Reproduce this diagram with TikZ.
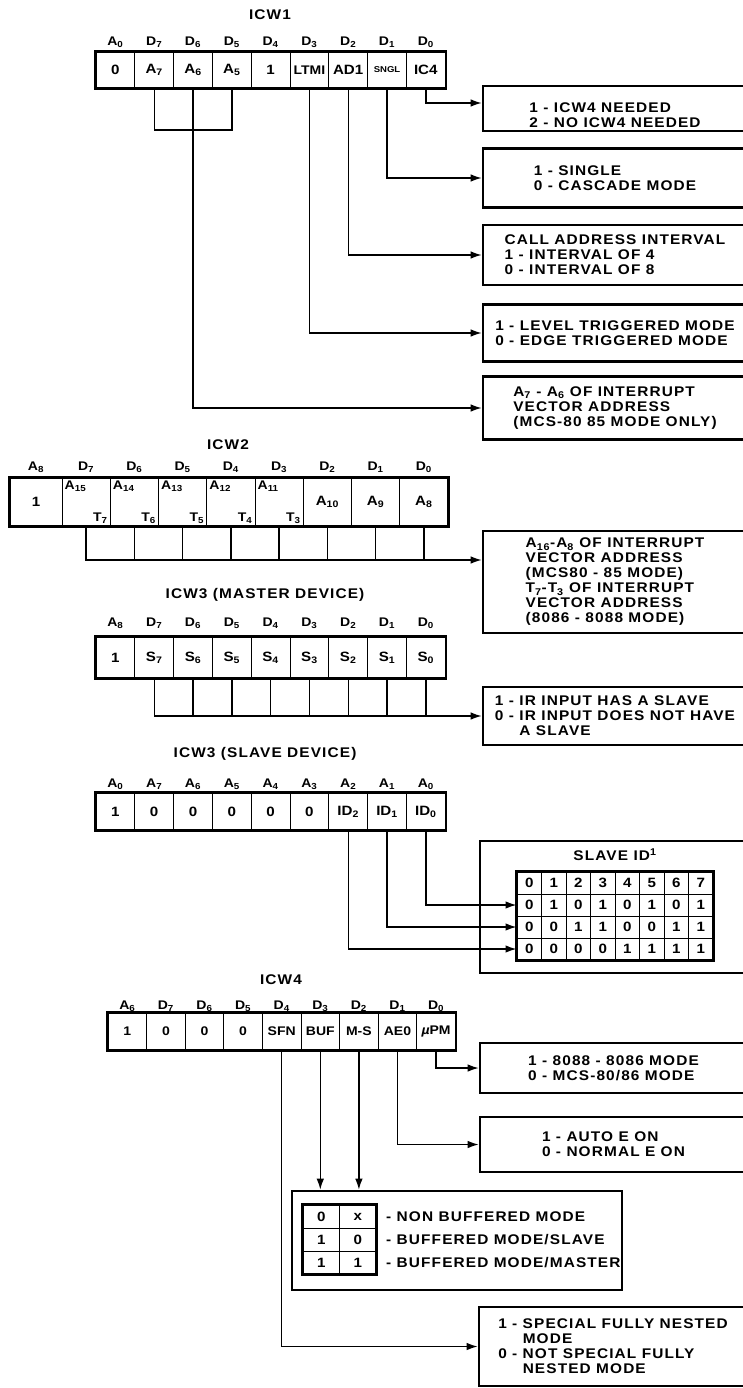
\documentclass[tikz,border=0pt]{standalone}
\usepackage{fontspec}
\setmainfont{Liberation Sans}
\newfontfamily\fonttesto{Liberation Sans}[FakeStretch=1.1,LetterSpace=8]
\newfontfamily\fontcella{Liberation Sans}[FakeStretch=1.12]
\usetikzlibrary{arrows.meta,positioning}
\newcommand{\lo}[1]{\textsubscript{#1}}

\begin{document}
\begin{tikzpicture}[
  x=1pt, y=-1pt,
  filo/.style={line width=1.4pt},
  freccia/.style={line width=1.4pt, -{Latex[length=11pt,width=7.5pt]}},
  bordo/.style={line width=2.4pt},
  cella/.style={draw, line width=1pt, inner sep=0pt,
    font=\fontcella\bfseries\fontsize{13.5}{13.5}\selectfont},
  bit/.style={inner sep=0pt,
    font=\fontcella\bfseries\fontsize{12.5}{12.5}\selectfont},
  titolo/.style={inner sep=0pt,
    font=\fonttesto\bfseries\fontsize{14}{14}\selectfont},
  riquadro/.style={draw, line width=2.6pt, minimum width=264pt,
    inner sep=0pt, align=left,
    font=\fonttesto\bfseries\fontsize{14}{15}\selectfont},
  voce/.style={inner sep=0pt, anchor=west,
    font=\fonttesto\bfseries\fontsize{14}{14}\selectfont},
]
\useasboundingbox (0,0) rectangle (742,1388);

%% ICW1
\node[titolo] (t1) at (270,15) {ICW1};
\foreach \i/\b/\c in {0/A\lo{0}/0, 1/D\lo{7}/A\lo{7}, 2/D\lo{6}/A\lo{6},
    3/D\lo{5}/A\lo{5}, 4/D\lo{4}/1, 5/D\lo{3}/{\fontsize{12.5}{12.5}\selectfont LTMI},
    6/D\lo{2}/AD1, 7/D\lo{1}/{\fontsize{8.5}{8.5}\selectfont SNGL}, 8/D\lo{0}/IC4} {
  \node[cella, minimum width=38.8pt, minimum height=36pt]
    (w1c\i) at (115.4+38.8*\i,70) {\c};
  \node[bit] (w1b\i) at (115.4+38.8*\i,42) {\b};
}
\draw[bordo] (w1c0.north west) rectangle (w1c8.south east);

% riquadri ICW1
\node[riquadro, minimum height=45pt] (b1) at (615,108.5) {};
\node[riquadro, draw=none, minimum height=0pt] (b1t) at (615,115)
  {1 - ICW4 NEEDED\\2 - NO ICW4 NEEDED};
\node[riquadro, minimum height=59pt] (b2) at (615,178)
  {1 - SINGLE\\0 - CASCADE MODE};
\node[riquadro, minimum height=60pt] (b3) at (615,255)
  {CALL ADDRESS INTERVAL\\1 - INTERVAL OF 4\\0 - INTERVAL OF 8};
\node[riquadro, minimum height=57pt] (b4) at (615,333)
  {1 - LEVEL TRIGGERED MODE\\0 - EDGE TRIGGERED MODE};
\node[riquadro, minimum height=63pt] (b5) at (615,408)
  {A\lo{7} - A\lo{6} OF INTERRUPT\\VECTOR ADDRESS\\(MCS-80 85 MODE ONLY)};

% collegamenti ICW1
\coordinate (ponte) at (w1c2.south |- 0,130);
\coordinate (ic4) at (0,103);
\draw[filo] (w1c1.south) |- (ponte) -| (w1c3.south);
\draw[filo] (w1c2.south) -- (ponte);
\draw[freccia] (ponte) |- (b5.west);
\draw[freccia] (w1c5.south) |- (b4.west);
\draw[freccia] (w1c6.south) |- (b3.west);
\draw[freccia] (w1c7.south) |- (b2.west);
\draw[freccia] (w1c8.south) |- (b1.west |- ic4);

%% ICW2
\node[titolo] (t2) at (228,445) {ICW2};
\node[cella, minimum width=52pt, minimum height=48pt] (w2c0) at (36,502) {1};
\node[bit] (w2b0) at (36,467) {A\lo{8}};
\foreach \i/\b/\c in {1/7/{}, 2/6/{}, 3/5/{}, 4/4/{}, 5/3/{},
    6/2/A\lo{10}, 7/1/A\lo{9}, 8/0/A\lo{8}} {
  \node[cella, minimum width=48.25pt, minimum height=48pt]
    (w2c\i) at (37.875+48.25*\i,502) {\c};
  \node[bit] (w2b\i) at (37.875+48.25*\i,467) {D\lo{\b}};
}
\foreach \i/\a/\t in {1/15/7, 2/14/6, 3/13/5, 4/12/4, 5/11/3} {
  \node[bit, inner sep=3pt, anchor=north west] (w2a\i) at (w2c\i.north west) {A\lo{\a}};
  \node[bit, inner sep=3pt, anchor=south east] (w2t\i) at (w2c\i.south east) {T\lo{\t}};
}
\draw[bordo] (w2c0.north west) rectangle (w2c8.south east);

\node[riquadro, minimum height=102pt] (b6) at (615,582)
  {A\lo{16}-A\lo{8} OF INTERRUPT\\VECTOR ADDRESS\\(MCS80 - 85 MODE)\\
   T\lo{7}-T\lo{3} OF INTERRUPT\\VECTOR ADDRESS\\(8086 - 8088 MODE)};

\coordinate (bus2) at (0,560);
\draw[freccia] (w2c1.south) |- (b6.west |- bus2);
\foreach \i in {2,...,8}
  \draw[filo] (w2c\i.south) -- (w2c\i.south |- bus2);

%% ICW3 master
\node[titolo] (t3) at (265,595) {ICW3 (MASTER DEVICE)};
\foreach \i/\b/\c in {0/A\lo{8}/1, 1/D\lo{7}/S\lo{7}, 2/D\lo{6}/S\lo{6},
    3/D\lo{5}/S\lo{5}, 4/D\lo{4}/S\lo{4}, 5/D\lo{3}/S\lo{3},
    6/D\lo{2}/S\lo{2}, 7/D\lo{1}/S\lo{1}, 8/D\lo{0}/S\lo{0}} {
  \node[cella, minimum width=38.8pt, minimum height=41pt]
    (m3c\i) at (115.4+38.8*\i,657.5) {\c};
  \node[bit] (m3b\i) at (115.4+38.8*\i,623) {\b};
}
\draw[bordo] (m3c0.north west) rectangle (m3c8.south east);

\node[riquadro, minimum height=58pt] (b7) at (615,716)
  {1 - IR INPUT HAS A SLAVE\\0 - IR INPUT DOES NOT HAVE\\\phantom{1 - }A SLAVE};
\draw[freccia] (m3c1.south) |- (b7.west);
\foreach \i in {2,...,8}
  \draw[filo] (m3c\i.south) -- (m3c\i.south |- b7.west);

%% ICW3 slave
\node[titolo] (t4) at (265,754) {ICW3 (SLAVE DEVICE)};
\foreach \i/\b/\c in {0/A\lo{0}/1, 1/A\lo{7}/0, 2/A\lo{6}/0,
    3/A\lo{5}/0, 4/A\lo{4}/0, 5/A\lo{3}/0,
    6/A\lo{2}/ID\lo{2}, 7/A\lo{1}/ID\lo{1}, 8/A\lo{0}/ID\lo{0}} {
  \node[cella, minimum width=38.8pt, minimum height=37pt]
    (s3c\i) at (115.4+38.8*\i,811.5) {\c};
  \node[bit] (s3b\i) at (115.4+38.8*\i,784) {\b};
}
\draw[bordo] (s3c0.north west) rectangle (s3c8.south east);

\node[riquadro, minimum width=267pt, minimum height=132pt] (b8) at (613.5,907) {};
\node[titolo] (t5) at (615,855) {SLAVE ID\textsuperscript{1}};
\foreach \r/\riga in {0/{0,1,2,3,4,5,6,7}, 1/{0,1,0,1,0,1,0,1},
    2/{0,0,1,1,0,0,1,1}, 3/{0,0,0,0,1,1,1,1}} {
  \foreach \v [count=\c from 0] in \riga
    \node[cella, minimum width=24.5pt, minimum height=22pt]
      (id\r-\c) at (529.25+24.5*\c,883+22*\r) {\v};
}
\draw[bordo] (id0-0.north west) rectangle (id3-7.south east);

\draw[freccia] (s3c8.south) |- (id1-0.west);
\draw[freccia] (s3c7.south) |- (id2-0.west);
\draw[freccia] (s3c6.south) |- (id3-0.west);

%% ICW4
\node[titolo] (t6) at (281,980) {ICW4};
\foreach \i/\b/\c in {0/A\lo{6}/1, 1/D\lo{7}/0, 2/D\lo{6}/0,
    3/D\lo{5}/0, 4/D\lo{4}/SFN, 5/D\lo{3}/BUF,
    6/D\lo{2}/M-S, 7/D\lo{1}/AE0, 8/D\lo{0}/{\itshape µ}PM} {
  \node[cella, minimum width=38.6pt, minimum height=37pt,
    font=\fontcella\bfseries\fontsize{12.5}{12.5}\selectfont]
    (w4c\i) at (127.3+38.6*\i,1031.5) {\c};
  \node[bit] (w4b\i) at (127.3+38.6*\i,1006) {\b};
}
\draw[bordo] (w4c0.north west) rectangle (w4c8.south east);

\node[riquadro, minimum width=267pt, minimum height=50pt] (b9) at (613.5,1068)
  {1 - 8088 - 8086 MODE\\0 - MCS-80/86 MODE};
\node[riquadro, minimum width=267pt, minimum height=55pt] (b10) at (613.5,1144.5)
  {1 - AUTO E ON\\0 - NORMAL E ON};
\node[riquadro, minimum width=330pt, minimum height=99pt] (b11) at (457,1240.5) {};
\foreach \r/\p/\q/\t in {0/0/x/{NON BUFFERED MODE}, 1/1/0/{BUFFERED MODE/SLAVE},
    2/1/1/{BUFFERED MODE/MASTER}} {
  \node[cella, minimum width=36.5pt, minimum height=23pt] (bf\r-0) at (321.25,1216.5+23*\r) {\p};
  \node[cella, minimum width=36.5pt, minimum height=23pt] (bf\r-1) at (357.75,1216.5+23*\r) {\q};
  \node[voce] (bv\r) at (386,1216.5+23*\r) {- \t};
}
\draw[bordo] (bf0-0.north west) rectangle (bf2-1.south east);
\node[riquadro, minimum width=268pt, minimum height=79pt] (b12) at (613,1346.5)
  {1 - SPECIAL FULLY NESTED\\\phantom{1 - }MODE\\0 - NOT SPECIAL FULLY\\\phantom{0 - }NESTED MODE};

\draw[freccia] (w4c8.south) |- (b9.west);
\draw[freccia] (w4c7.south) |- (b10.west);
\draw[freccia] (w4c5.south) -- (w4c5.south |- b11.north);
\draw[freccia] (w4c6.south) -- (w4c6.south |- b11.north);
\draw[freccia] (w4c4.south) |- (b12.west);

\end{tikzpicture}
\end{document}
